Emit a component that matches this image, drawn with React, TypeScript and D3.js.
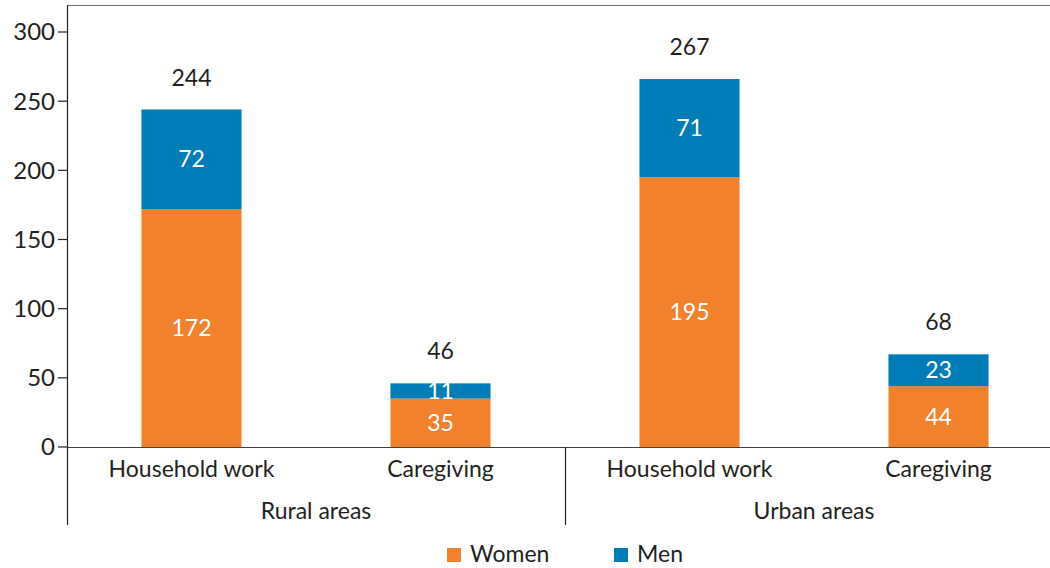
import { useEffect, useRef } from 'react';
import * as d3 from 'd3';

const groups = ['Rural areas', 'Urban areas'];
const activities = ['Household work', 'Caregiving'];
const women = [172, 35, 195, 44];
const men = [72, 11, 71, 23];
const totals = [244, 46, 267, 68];
const yTicks = [0, 50, 100, 150, 200, 250, 300];

const ORANGE = '#F2812E';
const BLUE = '#007DB7';
const INK = '#231F20';
const FONT = 'Lato, "Open Sans", sans-serif';

export default function App() {
    const svgRef = useRef<SVGSVGElement>(null);

    useEffect(() => {
        if (!svgRef.current) return;
        const svg = d3.select(svgRef.current);
        svg.selectAll('*').remove();

        const width = 1050;
        const height = 568;
        const left = 67;
        const right = 1063;
        const top = 5;
        const axisBottom = 525;

        // one band per bar, groups x activities
        const keys = groups.flatMap(g => activities.map(a => `${g}|${a}`));
        const x = d3.scaleBand<string>()
            .domain(keys)
            .range([left, right])
            .paddingInner(0.598)
            .paddingOuter(0.299);

        const y = d3.scaleLinear().domain([0, 300]).range([447, 32]);

        svg.attr('width', width).attr('height', height)
            .style('font-family', FONT);

        // frame
        svg.append('line')
            .attr('x1', left).attr('x2', width).attr('y1', top + 0.5).attr('y2', top + 0.5)
            .attr('stroke', '#6d6e71').attr('stroke-width', 1.2);
        svg.append('line')
            .attr('x1', left + 0.5).attr('x2', left + 0.5).attr('y1', top).attr('y2', axisBottom)
            .attr('stroke', INK).attr('stroke-width', 1.2);

        // y ticks
        const yt = svg.append('g');
        yt.selectAll('line').data(yTicks).join('line')
            .attr('x1', left - 9).attr('x2', left)
            .attr('y1', d => y(d)).attr('y2', d => y(d))
            .attr('stroke', INK).attr('stroke-width', 1.2);
        yt.selectAll('text').data(yTicks).join('text')
            .attr('x', left - 12).attr('y', d => y(d))
            .attr('dy', '0.35em')
            .attr('text-anchor', 'end')
            .style('font-size', '24px')
            .style('fill', INK)
            .text(d => d);

        // bars
        const rows = keys.map((k, i) => ({ k, w: women[i], m: men[i], t: totals[i] }));
        const bars = svg.append('g');
        bars.selectAll('rect.w').data(rows).join('rect')
            .attr('class', 'w')
            .attr('x', d => x(d.k)!)
            .attr('width', x.bandwidth())
            .attr('y', d => y(d.w))
            .attr('height', d => y(0) - y(d.w))
            .attr('fill', ORANGE);
        bars.selectAll('rect.m').data(rows).join('rect')
            .attr('class', 'm')
            .attr('x', d => x(d.k)!)
            .attr('width', x.bandwidth())
            .attr('y', d => y(d.w + d.m))
            .attr('height', d => y(d.w) - y(d.w + d.m))
            .attr('fill', BLUE);

        const cx = (k: string) => x(k)! + x.bandwidth() / 2;

        bars.selectAll('text.wl').data(rows).join('text')
            .attr('class', 'wl')
            .attr('x', d => cx(d.k))
            .attr('y', d => (y(0) + y(d.w)) / 2)
            .attr('dy', '0.35em')
            .attr('text-anchor', 'middle')
            .style('font-size', '23px').style('fill', '#fff')
            .text(d => d.w);
        bars.selectAll('text.ml').data(rows).join('text')
            .attr('class', 'ml')
            .attr('x', d => cx(d.k))
            .attr('y', d => (y(d.w) + y(d.w + d.m)) / 2)
            .attr('dy', '0.35em')
            .attr('text-anchor', 'middle')
            .style('font-size', '23px').style('fill', '#fff')
            .text(d => d.m);
        bars.selectAll('text.tl').data(rows).join('text')
            .attr('class', 'tl')
            .attr('x', d => cx(d.k))
            .attr('y', d => y(d.w + d.m) - 32)
            .attr('dy', '0.35em')
            .attr('text-anchor', 'middle')
            .style('font-size', '23px').style('fill', INK)
            .text(d => d.t);

        // baseline
        svg.append('line')
            .attr('x1', left).attr('x2', width).attr('y1', y(0) + 0.5).attr('y2', y(0) + 0.5)
            .attr('stroke', '#414042').attr('stroke-width', 1.2);

        // category labels
        svg.append('g').selectAll('text').data(keys).join('text')
            .attr('x', d => cx(d))
            .attr('y', 469)
            .attr('dy', '0.35em')
            .attr('text-anchor', 'middle')
            .style('font-size', '23px').style('fill', INK)
            .text(d => d.split('|')[1]);

        // group labels and separators
        const groupWidth = (right - left) / groups.length;
        svg.append('g').selectAll('text').data(groups).join('text')
            .attr('x', (_, i) => left + groupWidth * (i + 0.5))
            .attr('y', 511)
            .attr('dy', '0.35em')
            .attr('text-anchor', 'middle')
            .style('font-size', '23px').style('fill', INK)
            .text(d => d);
        svg.append('g').selectAll('line').data(groups.slice(1)).join('line')
            .attr('x1', (_, i) => left + groupWidth * (i + 1) + 0.5)
            .attr('x2', (_, i) => left + groupWidth * (i + 1) + 0.5)
            .attr('y1', y(0)).attr('y2', axisBottom)
            .attr('stroke', INK).attr('stroke-width', 1.2);

        // legend
        const legend = [{ name: 'Women', c: ORANGE, x: 447 }, { name: 'Men', c: BLUE, x: 614 }];
        const lg = svg.append('g');
        lg.selectAll('rect').data(legend).join('rect')
            .attr('x', d => d.x).attr('y', 548).attr('width', 14).attr('height', 14)
            .attr('fill', d => d.c);
        lg.selectAll('text').data(legend).join('text')
            .attr('x', d => d.x + 23).attr('y', 554)
            .attr('dy', '0.35em')
            .style('font-size', '23px').style('fill', INK)
            .text(d => d.name);
    }, []);

    return (
        <svg ref={svgRef} style={{ position: 'absolute', left: 0, top: 0, display: 'block' }}></svg>
    );
}
